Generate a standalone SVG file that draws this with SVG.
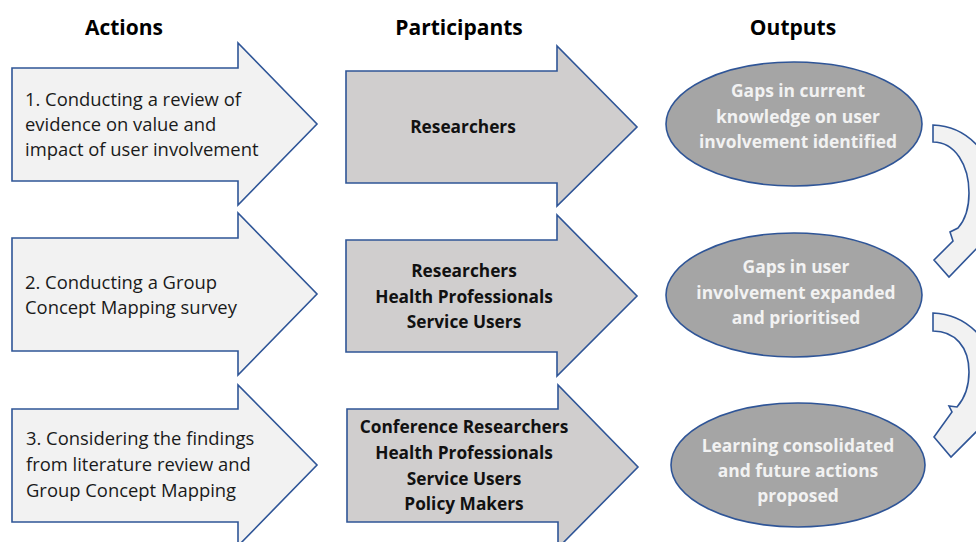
<svg xmlns="http://www.w3.org/2000/svg" width="976" height="542" viewBox="0 0 976 542">
  <style>
    .hdr { font-family: "Open Sans", "Liberation Sans", sans-serif; font-weight: bold; font-size: 21px; fill: #000; text-anchor: middle; }
    .act { fill: #F2F2F2; stroke: #2F5597; stroke-width: 1.6; stroke-linejoin: miter; }
    .par { fill: #D0CECE; stroke: #2F5597; stroke-width: 1.6; stroke-linejoin: miter; }
    .out { fill: #A5A5A5; stroke: #2F5597; stroke-width: 1.6; }
    .bend { fill: #F2F2F2; stroke: #2F5597; stroke-width: 1.6; stroke-linejoin: miter; }
    .t-act { font-family: "Open Sans", "Liberation Sans", sans-serif; font-size: 18.4px; fill: #1a1a1a; }
    .t-par { font-family: "Open Sans", "Liberation Sans", sans-serif; font-weight: bold; font-size: 17.3px; fill: #111; text-anchor: middle; }
    .t-out { font-family: "Open Sans", "Liberation Sans", sans-serif; font-weight: bold; font-size: 17.4px; fill: #F2F2F2; text-anchor: middle; }
  </style>

  <rect width="976" height="542" fill="#FFFFFF"/>

  <!-- column headings -->
  <g id="headings">
    <text class="hdr" x="124" y="35">Actions</text>
    <text class="hdr" x="459" y="35">Participants</text>
    <text class="hdr" x="793" y="35">Outputs</text>
  </g>

  <!-- actions column -->
  <g id="action-1">
    <path class="act" d="M12,68 H238 V43 L317,124 L238,205 V181 H12 Z"/>
    <text class="t-act" x="25" y="106">1. Conducting a review of</text>
    <text class="t-act" x="25" y="131">evidence on value and</text>
    <text class="t-act" x="25" y="156">impact of user involvement</text>
  </g>
  <g id="action-2">
    <path class="act" d="M12,238 H238 V213 L317,294 L238,375 V351 H12 Z"/>
    <text class="t-act" x="25" y="289">2. Conducting a Group</text>
    <text class="t-act" x="25" y="314">Concept Mapping survey</text>
  </g>
  <g id="action-3">
    <path class="act" d="M12,409 H238 V385 L317,465 L238,546 V522 H12 Z"/>
    <text class="t-act" x="26" y="445">3. Considering the findings</text>
    <text class="t-act" x="26" y="471">from literature review and</text>
    <text class="t-act" x="26" y="497">Group Concept Mapping</text>
  </g>

  <!-- participants column -->
  <g id="participants-1">
    <path class="par" d="M346,71 H557 V46 L637,127 L557,206 V183 H346 Z"/>
    <text class="t-par" x="463" y="133">Researchers</text>
  </g>
  <g id="participants-2">
    <path class="par" d="M346,240 H557 V215 L637,296 L557,376 V352 H346 Z"/>
    <text class="t-par" x="464" y="277">Researchers</text>
    <text class="t-par" x="464" y="303">Health Professionals</text>
    <text class="t-par" x="464" y="328">Service Users</text>
  </g>
  <g id="participants-3">
    <path class="par" d="M347,409 H558 V385 L638,467 L558,548 V522 H347 Z"/>
    <text class="t-par" x="464" y="433">Conference Researchers</text>
    <text class="t-par" x="464" y="459">Health Professionals</text>
    <text class="t-par" x="464" y="485">Service Users</text>
    <text class="t-par" x="464" y="510">Policy Makers</text>
  </g>

  <!-- outputs column -->
  <g id="output-1">
    <ellipse class="out" cx="794" cy="124" rx="128" ry="62"/>
    <text class="t-out" x="798" y="97">Gaps in current</text>
    <text class="t-out" x="798" y="123">knowledge on user</text>
    <text class="t-out" x="798" y="148">involvement identified</text>
  </g>
  <g id="output-2">
    <ellipse class="out" cx="794" cy="295" rx="128" ry="62"/>
    <text class="t-out" x="796" y="273">Gaps in user</text>
    <text class="t-out" x="796" y="299">involvement expanded</text>
    <text class="t-out" x="796" y="324">and prioritised</text>
  </g>
  <g id="output-3">
    <ellipse class="out" cx="798" cy="465" rx="127" ry="62"/>
    <text class="t-out" x="798" y="452">Learning consolidated</text>
    <text class="t-out" x="798" y="477">and future actions</text>
    <text class="t-out" x="798" y="502">proposed</text>
  </g>

  <!-- curved connectors between outputs -->
  <g id="connectors">
    <path class="bend" d="M933,125 C965,126 994,152 994,190 C994,215 988,233 978,247 L949,277 L934,260 L953,241 L950,232 L958,228 C965,220 969,208 969,193 C969,165 955,142 933,142 Z"/>
    <path class="bend" d="M933,313 C965,314 994,340 994,375 C994,400 988,418 978,430 L951,457 L934,437 L952,412 L949,406 L957,407 C964,399 969,388 969,372 C969,347 955,331 933,331 Z"/>
  </g>
</svg>
